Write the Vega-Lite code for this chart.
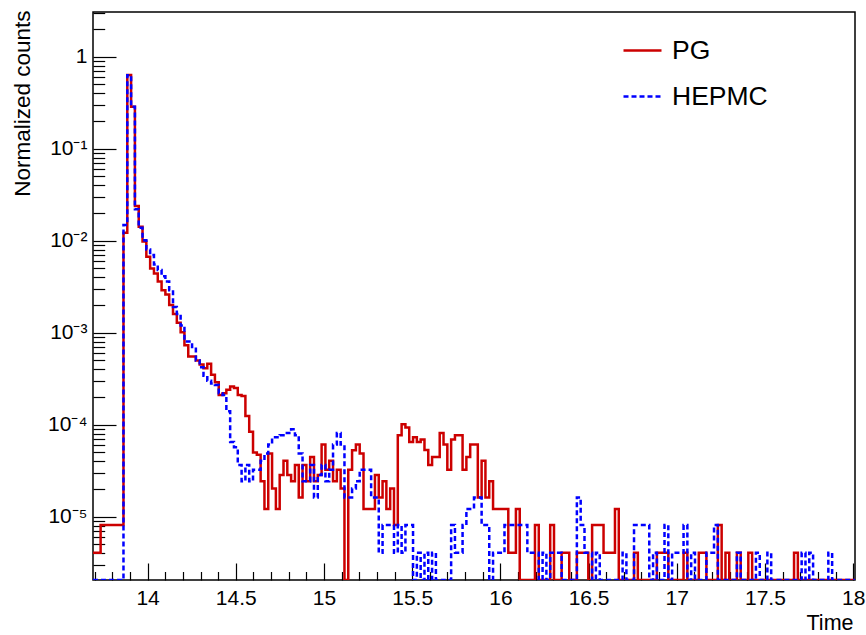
{
  "$schema": "https://vega.github.io/schema/vega-lite/v6.json",
  "width": 762,
  "height": 568,
  "autosize": {"type": "none"},
  "padding": {"left": 93, "top": 12, "right": 11, "bottom": 55},
  "background": "white",
  "config": {
    "view": {"stroke": "black", "strokeWidth": 1.5},
    "font": "Liberation Sans",
    "axis": {"labelFont": "Liberation Sans", "titleFont": "Liberation Sans", "domain": false, "grid": false, "labelColor": "black", "titleColor": "black", "tickColor": "black", "titleFontWeight": "normal", "tickWidth": 1.2}
  },
  "data": {"values": [
{"t":13.6905,"PG":4.05e-6,"HEPMC":0},
{"t":13.7121,"PG":4.05e-6,"HEPMC":0},
{"t":13.7337,"PG":8.1e-6,"HEPMC":0},
{"t":13.7553,"PG":8.1e-6,"HEPMC":0},
{"t":13.7769,"PG":8.1e-6,"HEPMC":0},
{"t":13.7985,"PG":8.1e-6,"HEPMC":0},
{"t":13.8201,"PG":8.1e-6,"HEPMC":0},
{"t":13.8417,"PG":8.1e-6,"HEPMC":0},
{"t":13.8633,"PG":0.0122,"HEPMC":0.0148},
{"t":13.8849,"PG":0.632,"HEPMC":0.63},
{"t":13.9065,"PG":0.286,"HEPMC":0.286},
{"t":13.9281,"PG":0.0238,"HEPMC":0.022},
{"t":13.9497,"PG":0.0142,"HEPMC":0.0138},
{"t":13.9713,"PG":0.0098,"HEPMC":0.0101},
{"t":13.9929,"PG":0.0067,"HEPMC":0.008},
{"t":14.0145,"PG":0.005,"HEPMC":0.007},
{"t":14.0361,"PG":0.0044,"HEPMC":0.0055},
{"t":14.0577,"PG":0.0036,"HEPMC":0.0048},
{"t":14.0793,"PG":0.0029,"HEPMC":0.0041},
{"t":14.1009,"PG":0.0026,"HEPMC":0.0036},
{"t":14.1225,"PG":0.002,"HEPMC":0.0029},
{"t":14.1441,"PG":0.0016,"HEPMC":0.0019},
{"t":14.1657,"PG":0.00128,"HEPMC":0.0016},
{"t":14.1873,"PG":0.00101,"HEPMC":0.0012},
{"t":14.2089,"PG":0.00073,"HEPMC":0.0008},
{"t":14.2305,"PG":0.00055,"HEPMC":0.0008},
{"t":14.2521,"PG":0.00055,"HEPMC":0.0007},
{"t":14.2737,"PG":0.0005,"HEPMC":0.0005},
{"t":14.2953,"PG":0.00045,"HEPMC":0.00042},
{"t":14.3169,"PG":0.00041,"HEPMC":0.00034},
{"t":14.3385,"PG":0.00046,"HEPMC":0.0003},
{"t":14.3601,"PG":0.00035,"HEPMC":0.00028},
{"t":14.3817,"PG":0.00029,"HEPMC":0.00027},
{"t":14.4033,"PG":0.00021,"HEPMC":0.00022},
{"t":14.4249,"PG":0.00022,"HEPMC":0.00021},
{"t":14.4465,"PG":0.00024,"HEPMC":0.00014},
{"t":14.4681,"PG":0.00026,"HEPMC":6.5e-5},
{"t":14.4897,"PG":0.00025,"HEPMC":5.7e-5},
{"t":14.5113,"PG":0.00021,"HEPMC":3.645e-5},
{"t":14.5329,"PG":0.000205,"HEPMC":2.43e-5},
{"t":14.5545,"PG":0.000124,"HEPMC":3.645e-5},
{"t":14.5761,"PG":8.4e-5,"HEPMC":2.43e-5},
{"t":14.5977,"PG":5e-5,"HEPMC":3.24e-5},
{"t":14.6193,"PG":4.7e-5,"HEPMC":3.24e-5},
{"t":14.6409,"PG":2.43e-5,"HEPMC":4.05e-5},
{"t":14.6625,"PG":1.215e-5,"HEPMC":4.86e-5},
{"t":14.6841,"PG":4.86e-5,"HEPMC":6.075e-5},
{"t":14.7057,"PG":2.025e-5,"HEPMC":7.29e-5},
{"t":14.7273,"PG":1.215e-5,"HEPMC":7.29e-5},
{"t":14.7489,"PG":2.835e-5,"HEPMC":7.7e-5},
{"t":14.7705,"PG":4.05e-5,"HEPMC":8.1e-5},
{"t":14.7921,"PG":2.835e-5,"HEPMC":8.1e-5},
{"t":14.8137,"PG":2.43e-5,"HEPMC":8.91e-5},
{"t":14.8353,"PG":3.645e-5,"HEPMC":7.7e-5},
{"t":14.8569,"PG":1.62e-5,"HEPMC":4.86e-5},
{"t":14.8785,"PG":3.645e-5,"HEPMC":2.43e-5},
{"t":14.9001,"PG":2.43e-5,"HEPMC":2.43e-5},
{"t":14.9217,"PG":4.455e-5,"HEPMC":3.645e-5},
{"t":14.9433,"PG":2.43e-5,"HEPMC":1.62e-5},
{"t":14.9649,"PG":2.835e-5,"HEPMC":2.835e-5},
{"t":14.9865,"PG":6.075e-5,"HEPMC":3.645e-5},
{"t":15.0081,"PG":3.24e-5,"HEPMC":2.43e-5},
{"t":15.0297,"PG":4.05e-5,"HEPMC":3.24e-5},
{"t":15.0513,"PG":2.43e-5,"HEPMC":6.075e-5},
{"t":15.0729,"PG":3.24e-5,"HEPMC":8.1e-5},
{"t":15.0945,"PG":2.025e-5,"HEPMC":6.075e-5},
{"t":15.1161,"PG":0,"HEPMC":1.62e-5},
{"t":15.1377,"PG":3.24e-5,"HEPMC":1.62e-5},
{"t":15.1593,"PG":5.265e-5,"HEPMC":2.025e-5},
{"t":15.1809,"PG":6.075e-5,"HEPMC":2.43e-5},
{"t":15.2025,"PG":4.86e-5,"HEPMC":3.24e-5},
{"t":15.2241,"PG":1.215e-5,"HEPMC":3.24e-5},
{"t":15.2457,"PG":1.215e-5,"HEPMC":3.24e-5},
{"t":15.2673,"PG":1.215e-5,"HEPMC":1.62e-5},
{"t":15.2889,"PG":2.835e-5,"HEPMC":1.62e-5},
{"t":15.3105,"PG":1.62e-5,"HEPMC":4.05e-6},
{"t":15.3321,"PG":2.43e-5,"HEPMC":8.1e-6},
{"t":15.3537,"PG":1.215e-5,"HEPMC":8.1e-6},
{"t":15.3753,"PG":2.025e-5,"HEPMC":8.1e-6},
{"t":15.3969,"PG":8.1e-6,"HEPMC":4.05e-6},
{"t":15.4185,"PG":7.7e-5,"HEPMC":8.1e-6},
{"t":15.4401,"PG":1.01e-4,"HEPMC":4.05e-6},
{"t":15.4617,"PG":9.3e-5,"HEPMC":8.1e-6},
{"t":15.4833,"PG":6.5e-5,"HEPMC":8.1e-6},
{"t":15.5049,"PG":7.3e-5,"HEPMC":0},
{"t":15.5265,"PG":6.5e-5,"HEPMC":4.05e-6},
{"t":15.5481,"PG":6.9e-5,"HEPMC":0},
{"t":15.5697,"PG":5.3e-5,"HEPMC":4.05e-6},
{"t":15.5913,"PG":3.65e-5,"HEPMC":0},
{"t":15.6129,"PG":4.45e-5,"HEPMC":4.05e-6},
{"t":15.6345,"PG":4.45e-5,"HEPMC":0},
{"t":15.6561,"PG":8.1e-5,"HEPMC":0},
{"t":15.6777,"PG":6.1e-5,"HEPMC":0},
{"t":15.6993,"PG":3.24e-5,"HEPMC":0},
{"t":15.7209,"PG":6.9e-5,"HEPMC":8.1e-6},
{"t":15.7425,"PG":7.7e-5,"HEPMC":4.05e-6},
{"t":15.7641,"PG":7.7e-5,"HEPMC":4.05e-6},
{"t":15.7857,"PG":3.24e-5,"HEPMC":8.1e-6},
{"t":15.8073,"PG":4.45e-5,"HEPMC":1.215e-5},
{"t":15.8289,"PG":6.1e-5,"HEPMC":1.215e-5},
{"t":15.8505,"PG":6.1e-5,"HEPMC":1.62e-5},
{"t":15.8721,"PG":1.62e-5,"HEPMC":1.62e-5},
{"t":15.8937,"PG":4.05e-5,"HEPMC":8.1e-6},
{"t":15.9153,"PG":1.62e-5,"HEPMC":8.1e-6},
{"t":15.9369,"PG":2.43e-5,"HEPMC":0},
{"t":15.9585,"PG":1.215e-5,"HEPMC":4.05e-6},
{"t":15.9801,"PG":1.215e-5,"HEPMC":4.05e-6},
{"t":16.0017,"PG":1.215e-5,"HEPMC":4.05e-6},
{"t":16.0233,"PG":1.215e-5,"HEPMC":8.1e-6},
{"t":16.0449,"PG":4.05e-6,"HEPMC":8.1e-6},
{"t":16.0665,"PG":4.05e-6,"HEPMC":8.1e-6},
{"t":16.0881,"PG":1.215e-5,"HEPMC":8.1e-6},
{"t":16.1097,"PG":0,"HEPMC":8.1e-6},
{"t":16.1313,"PG":0,"HEPMC":8.1e-6},
{"t":16.1529,"PG":0,"HEPMC":4.05e-6},
{"t":16.1745,"PG":0,"HEPMC":4.05e-6},
{"t":16.1961,"PG":8.1e-6,"HEPMC":4.05e-6},
{"t":16.2177,"PG":0,"HEPMC":0},
{"t":16.2393,"PG":0,"HEPMC":4.05e-6},
{"t":16.2609,"PG":0,"HEPMC":0},
{"t":16.2825,"PG":8.1e-6,"HEPMC":4.05e-6},
{"t":16.3041,"PG":0,"HEPMC":4.05e-6},
{"t":16.3257,"PG":0,"HEPMC":4.05e-6},
{"t":16.3473,"PG":4.05e-6,"HEPMC":0},
{"t":16.3689,"PG":4.05e-6,"HEPMC":0},
{"t":16.3905,"PG":0,"HEPMC":0},
{"t":16.4121,"PG":0,"HEPMC":0},
{"t":16.4337,"PG":4.05e-6,"HEPMC":1.62e-5},
{"t":16.4553,"PG":4.05e-6,"HEPMC":8.1e-6},
{"t":16.4769,"PG":4.05e-6,"HEPMC":4.05e-6},
{"t":16.4985,"PG":0,"HEPMC":4.05e-6},
{"t":16.5201,"PG":8.1e-6,"HEPMC":0},
{"t":16.5417,"PG":8.1e-6,"HEPMC":4.05e-6},
{"t":16.5633,"PG":8.1e-6,"HEPMC":0},
{"t":16.5849,"PG":4.05e-6,"HEPMC":0},
{"t":16.6065,"PG":4.05e-6,"HEPMC":0},
{"t":16.6281,"PG":4.05e-6,"HEPMC":0},
{"t":16.6497,"PG":1.215e-5,"HEPMC":0},
{"t":16.6713,"PG":0,"HEPMC":0},
{"t":16.6929,"PG":0,"HEPMC":4.05e-6},
{"t":16.7145,"PG":0,"HEPMC":0},
{"t":16.7361,"PG":0,"HEPMC":0},
{"t":16.7577,"PG":4.05e-6,"HEPMC":8.1e-6},
{"t":16.7793,"PG":0,"HEPMC":8.1e-6},
{"t":16.8009,"PG":0,"HEPMC":8.1e-6},
{"t":16.8225,"PG":0,"HEPMC":8.1e-6},
{"t":16.8441,"PG":0,"HEPMC":0},
{"t":16.8657,"PG":0,"HEPMC":4.05e-6},
{"t":16.8873,"PG":4.05e-6,"HEPMC":0},
{"t":16.9089,"PG":4.05e-6,"HEPMC":0},
{"t":16.9305,"PG":4.05e-6,"HEPMC":8.1e-6},
{"t":16.9521,"PG":0,"HEPMC":0},
{"t":16.9737,"PG":0,"HEPMC":4.05e-6},
{"t":16.9953,"PG":0,"HEPMC":4.05e-6},
{"t":17.0169,"PG":0,"HEPMC":4.05e-6},
{"t":17.0385,"PG":4.05e-6,"HEPMC":8.1e-6},
{"t":17.0601,"PG":0,"HEPMC":0},
{"t":17.0817,"PG":0,"HEPMC":4.05e-6},
{"t":17.1033,"PG":0,"HEPMC":0},
{"t":17.1249,"PG":4.05e-6,"HEPMC":0},
{"t":17.1465,"PG":4.05e-6,"HEPMC":0},
{"t":17.1681,"PG":0,"HEPMC":4.05e-6},
{"t":17.1897,"PG":0,"HEPMC":4.05e-6},
{"t":17.2113,"PG":0,"HEPMC":8.1e-6},
{"t":17.2329,"PG":8.1e-6,"HEPMC":0},
{"t":17.2545,"PG":0,"HEPMC":0},
{"t":17.2761,"PG":4.05e-6,"HEPMC":0},
{"t":17.2977,"PG":0,"HEPMC":0},
{"t":17.3193,"PG":0,"HEPMC":0},
{"t":17.3409,"PG":4.05e-6,"HEPMC":4.05e-6},
{"t":17.3625,"PG":0,"HEPMC":0},
{"t":17.3841,"PG":0,"HEPMC":0},
{"t":17.4057,"PG":4.05e-6,"HEPMC":0},
{"t":17.4273,"PG":0,"HEPMC":0},
{"t":17.4489,"PG":0,"HEPMC":4.05e-6},
{"t":17.4705,"PG":0,"HEPMC":0},
{"t":17.4921,"PG":0,"HEPMC":0},
{"t":17.5137,"PG":0,"HEPMC":4.05e-6},
{"t":17.5353,"PG":0,"HEPMC":0},
{"t":17.5569,"PG":0,"HEPMC":0},
{"t":17.5785,"PG":0,"HEPMC":0},
{"t":17.6001,"PG":0,"HEPMC":0},
{"t":17.6217,"PG":0,"HEPMC":0},
{"t":17.6433,"PG":0,"HEPMC":0},
{"t":17.6649,"PG":4.05e-6,"HEPMC":0},
{"t":17.6865,"PG":0,"HEPMC":0},
{"t":17.7081,"PG":0,"HEPMC":4.05e-6},
{"t":17.7297,"PG":0,"HEPMC":0},
{"t":17.7513,"PG":0,"HEPMC":4.05e-6},
{"t":17.7729,"PG":0,"HEPMC":0},
{"t":17.7945,"PG":0,"HEPMC":0},
{"t":17.8161,"PG":0,"HEPMC":0},
{"t":17.8377,"PG":0,"HEPMC":0},
{"t":17.8593,"PG":0,"HEPMC":4.05e-6},
{"t":17.8809,"PG":0,"HEPMC":0},
{"t":17.9025,"PG":0,"HEPMC":0},
{"t":17.9241,"PG":0,"HEPMC":0},
{"t":17.9457,"PG":0,"HEPMC":0},
{"t":17.9673,"PG":0,"HEPMC":0},
{"t":17.9889,"PG":0,"HEPMC":0},
{"t":18.0105,"PG":0,"HEPMC":0}
  ]},
  "transform": [{"fold": ["PG", "HEPMC"], "as": ["series", "v"]}],
  "resolve": {"axis": {"x": "independent", "y": "independent"}},
  "layer": [
    {
      "transform": [{"filter": "datum.series == 'PG'"}],
      "mark": {"type": "line", "interpolate": "step-after", "strokeWidth": 2.5, "invalid": "show", "clip": true},
      "encoding": {
        "x": {"field": "t", "type": "quantitative", "scale": {"domain": [13.6905, 18.0105], "nice": false, "zero": false},
          "axis": {"values": [14, 14.5, 15, 15.5, 16, 16.5, 17, 17.5, 18], "format": "~g", "tickSize": -17, "labelFontSize": 21, "labelPadding": 24.5, "labelFlush": false,
                   "title": "Time", "titleFontSize": 21.5, "titleAnchor": "end", "titleAlign": "right", "titleBaseline": "alphabetic", "titleX": 760, "titleY": 49}},
        "y": {"field": "v", "type": "quantitative", "scale": {"type": "log", "domain": [2.05e-6, 3.06], "nice": false, "clamp": true},
          "axis": {"values": [1e-5, 1e-4, 1e-3, 1e-2, 1e-1, 1], "tickSize": -23, "labelFontSize": 21, "labelPadding": 29,
                   "labelExpr": "datum.value > 0.5 ? '1\u00a0\u00a0\u00a0' : '10' + ['', '⁻¹', '⁻²', '⁻³', '⁻⁴', '⁻⁵', '⁻⁶'][round(-log(datum.value) / LN10)]",
                   "title": "Normalized counts", "titleFontSize": 22.5, "titleAngle": -90, "titleAlign": "right", "titleBaseline": "middle", "titleX": -71, "titleY": -2}},
        "color": {"field": "series", "type": "nominal", "scale": {"domain": ["PG", "HEPMC"], "range": ["#cc0000", "#0000ff"]},
          "legend": {"orient": "none", "legendX": 529, "legendY": 18, "title": null, "labelFontSize": 26.5, "labelFont": "Liberation Sans", "labelColor": "black", "symbolType": "stroke", "symbolSize": 1444, "symbolStrokeWidth": 2.5, "rowPadding": 12, "labelOffset": 9, "padding": 0}},
        "strokeDash": {"field": "series", "type": "nominal", "scale": {"domain": ["PG", "HEPMC"], "range": [[1, 0], [5, 3]]},
          "legend": {"orient": "none", "legendX": 529, "legendY": 18, "title": null, "labelFontSize": 26.5, "labelFont": "Liberation Sans", "labelColor": "black", "symbolType": "stroke", "symbolSize": 1444, "symbolStrokeWidth": 2.5, "rowPadding": 12, "labelOffset": 9, "padding": 0}}
      }
    },
    {
      "transform": [{"filter": "datum.series == 'HEPMC'"}],
      "mark": {"type": "line", "interpolate": "step-after", "strokeWidth": 2.5, "invalid": "show", "clip": true},
      "encoding": {
        "x": {"field": "t", "type": "quantitative", "axis": null},
        "y": {"field": "v", "type": "quantitative", "axis": null},
        "color": {"field": "series", "type": "nominal"},
        "strokeDash": {"field": "series", "type": "nominal"}
      }
    },
    {
      "transform": [{"filter": "datum.series == 'PG'"}],
      "mark": {"type": "line", "strokeOpacity": 0, "invalid": "show", "clip": true},
      "encoding": {
        "x": {"field": "t", "type": "quantitative",
          "axis": {"orient": "bottom", "values": [13.7, 13.8, 13.9, 14.1, 14.2, 14.3, 14.4, 14.6, 14.7, 14.8, 14.9, 15.1, 15.2, 15.3, 15.4, 15.6, 15.7, 15.8, 15.9, 16.1, 16.2, 16.3, 16.4, 16.6, 16.7, 16.8, 16.9, 17.1, 17.2, 17.3, 17.4, 17.6, 17.7, 17.8, 17.9], "tickSize": -8.5, "labels": false, "title": null}},
        "y": {"field": "v", "type": "quantitative",
          "axis": {"orient": "left", "values": [3e-6, 4e-6, 5e-6, 6e-6, 7e-6, 8e-6, 9e-6, 2e-5, 3e-5, 4e-5, 5e-5, 6e-5, 7e-5, 8e-5, 9e-5, 2e-4, 3e-4, 4e-4, 5e-4, 6e-4, 7e-4, 8e-4, 9e-4, 2e-3, 3e-3, 4e-3, 5e-3, 6e-3, 7e-3, 8e-3, 9e-3, 0.02, 0.03, 0.04, 0.05, 0.06, 0.07, 0.08, 0.09, 0.2, 0.3, 0.4, 0.5, 0.6, 0.7, 0.8, 0.9, 2, 3], "tickSize": -11.7, "labels": false, "title": null}}
      }
    }
  ]
}
